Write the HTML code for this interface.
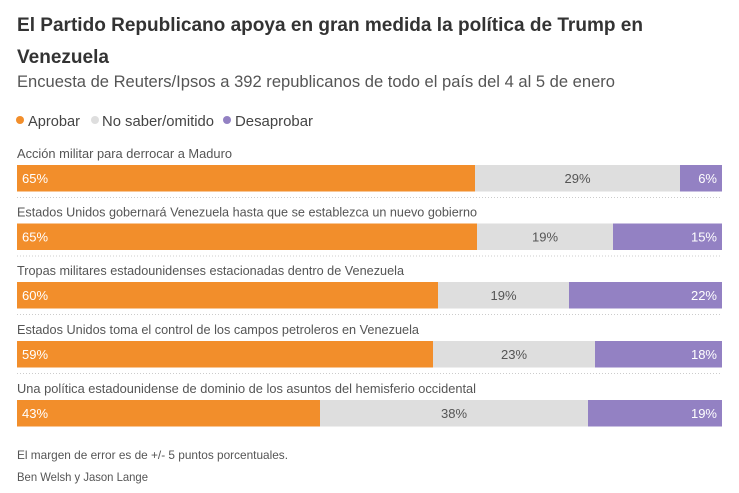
<!DOCTYPE html>
<html><head><meta charset="utf-8"><style>
html,body{margin:0;padding:0;background:#fff;width:739px;height:493px;overflow:hidden}
svg{display:block}
text{font-family:"Liberation Sans",sans-serif}
</style></head><body>
<svg width="739" height="493" viewBox="0 0 739 493" xmlns="http://www.w3.org/2000/svg">
<rect width="739" height="493" fill="#fff"/>
<text x="17" y="31" font-size="19" font-weight="bold" fill="#333" textLength="626" lengthAdjust="spacingAndGlyphs">El Partido Republicano apoya en gran medida la política de Trump en</text>
<text x="17" y="63" font-size="19" font-weight="bold" fill="#333" textLength="92" lengthAdjust="spacingAndGlyphs">Venezuela</text>
<text x="17" y="87" font-size="17" fill="#555" textLength="598" lengthAdjust="spacingAndGlyphs">Encuesta de Reuters/Ipsos a 392 republicanos de todo el país del 4 al 5 de enero</text>
<circle cx="20" cy="120" r="4" fill="#f28e2b"/>
<text x="28" y="126" font-size="15" fill="#444" textLength="52" lengthAdjust="spacingAndGlyphs">Aprobar</text>
<circle cx="95" cy="120" r="4" fill="#dedede"/>
<text x="102" y="126" font-size="15" fill="#444" textLength="112" lengthAdjust="spacingAndGlyphs">No saber/omitido</text>
<circle cx="227" cy="120" r="4" fill="#9381c3"/>
<text x="235" y="126" font-size="15" fill="#444" textLength="78" lengthAdjust="spacingAndGlyphs">Desaprobar</text>

<g font-size="13">
<!-- bar 1 -->
<text x="17" y="158" fill="#555" textLength="215" lengthAdjust="spacingAndGlyphs">Acción militar para derrocar a Maduro</text>
<rect x="17" y="165" width="458" height="26.5" fill="#f28e2b"/>
<rect x="475" y="165" width="205" height="26.5" fill="#dedede"/>
<rect x="680" y="165" width="42" height="26.5" fill="#9381c3"/>
<text x="22" y="183" fill="#fff">65%</text>
<text x="577.5" y="183" fill="#555" text-anchor="middle">29%</text>
<text x="717" y="183" fill="#fff" text-anchor="end">6%</text>
<line x1="17" y1="197.5" x2="722" y2="197.5" stroke="#ccc" stroke-dasharray="1,2"/>

<!-- bar 2 -->
<text x="17" y="216.5" fill="#555" textLength="460" lengthAdjust="spacingAndGlyphs">Estados Unidos gobernará Venezuela hasta que se establezca un nuevo gobierno</text>
<rect x="17" y="223.5" width="460" height="26.5" fill="#f28e2b"/>
<rect x="477" y="223.5" width="136" height="26.5" fill="#dedede"/>
<rect x="613" y="223.5" width="109" height="26.5" fill="#9381c3"/>
<text x="22" y="241.5" fill="#fff">65%</text>
<text x="545" y="241.5" fill="#555" text-anchor="middle">19%</text>
<text x="717" y="241.5" fill="#fff" text-anchor="end">15%</text>
<line x1="17" y1="256" x2="722" y2="256" stroke="#ccc" stroke-dasharray="1,2"/>

<!-- bar 3 -->
<text x="17" y="275" fill="#555" textLength="387" lengthAdjust="spacingAndGlyphs">Tropas militares estadounidenses estacionadas dentro de Venezuela</text>
<rect x="17" y="282" width="421" height="26.5" fill="#f28e2b"/>
<rect x="438" y="282" width="131" height="26.5" fill="#dedede"/>
<rect x="569" y="282" width="153" height="26.5" fill="#9381c3"/>
<text x="22" y="300" fill="#fff">60%</text>
<text x="503.5" y="300" fill="#555" text-anchor="middle">19%</text>
<text x="717" y="300" fill="#fff" text-anchor="end">22%</text>
<line x1="17" y1="314.5" x2="722" y2="314.5" stroke="#ccc" stroke-dasharray="1,2"/>

<!-- bar 4 -->
<text x="17" y="334" fill="#555" textLength="402" lengthAdjust="spacingAndGlyphs">Estados Unidos toma el control de los campos petroleros en Venezuela</text>
<rect x="17" y="341" width="416" height="26.5" fill="#f28e2b"/>
<rect x="433" y="341" width="162" height="26.5" fill="#dedede"/>
<rect x="595" y="341" width="127" height="26.5" fill="#9381c3"/>
<text x="22" y="359" fill="#fff">59%</text>
<text x="514" y="359" fill="#555" text-anchor="middle">23%</text>
<text x="717" y="359" fill="#fff" text-anchor="end">18%</text>
<line x1="17" y1="373.5" x2="722" y2="373.5" stroke="#ccc" stroke-dasharray="1,2"/>

<!-- bar 5 -->
<text x="17" y="393" fill="#555" textLength="459" lengthAdjust="spacingAndGlyphs">Una política estadounidense de dominio de los asuntos del hemisferio occidental</text>
<rect x="17" y="400" width="303" height="26.5" fill="#f28e2b"/>
<rect x="320" y="400" width="268" height="26.5" fill="#dedede"/>
<rect x="588" y="400" width="134" height="26.5" fill="#9381c3"/>
<text x="22" y="418" fill="#fff">43%</text>
<text x="454" y="418" fill="#555" text-anchor="middle">38%</text>
<text x="717" y="418" fill="#fff" text-anchor="end">19%</text>
</g>

<text x="17" y="459" font-size="12" fill="#555" textLength="271" lengthAdjust="spacingAndGlyphs">El margen de error es de +/- 5 puntos porcentuales.</text>
<text x="17" y="481" font-size="12" fill="#555" textLength="131" lengthAdjust="spacingAndGlyphs">Ben Welsh y Jason Lange</text>
</svg>
</body></html>
